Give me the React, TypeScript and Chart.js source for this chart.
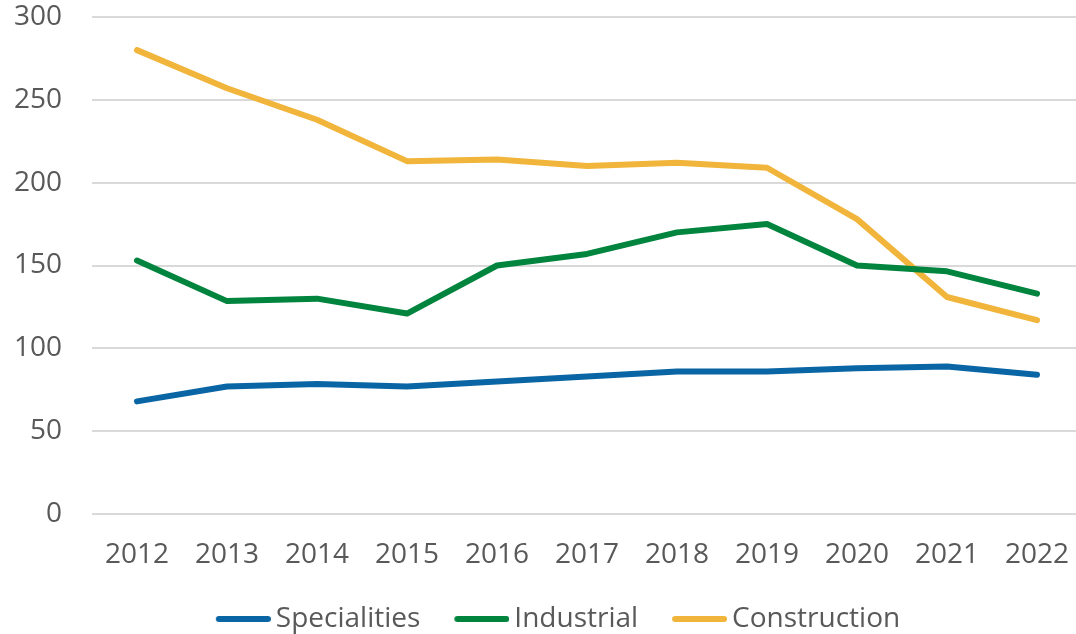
import React, { useEffect, useRef } from "react";
import { Chart, registerables } from "chart.js";

Chart.register(...registerables);

const years = ["2012", "2013", "2014", "2015", "2016", "2017", "2018", "2019", "2020", "2021", "2022"];
const specialities = [68, 77, 78.5, 77, 80, 83, 86, 86, 88, 89, 84];
const industrial = [153, 128.5, 130, 121, 150, 157, 170, 175, 150, 146.5, 133];
const construction = [280, 257, 238, 213, 214, 210, 212, 209, 178, 131, 117];
const yTicks = [0, 50, 100, 150, 200, 250, 300];

const FONT = "'Open Sans', sans-serif";
const TEXT = "#595959";

// legend marker: transparent left part, round-capped line on the right part
function lineMarker(color: string) {
  const c = document.createElement("canvas");
  c.width = 98;
  c.height = 8;
  const ctx = c.getContext("2d")!;
  ctx.strokeStyle = color;
  ctx.lineWidth = 6;
  ctx.lineCap = "round";
  ctx.beginPath();
  ctx.moveTo(46, 4);
  ctx.lineTo(95, 4);
  ctx.stroke();
  return c;
}

export default function App() {
  const ref = useRef<HTMLCanvasElement>(null);
  useEffect(() => {
    if (!ref.current) return;
    const mk = (label: string, data: number[], color: string) => ({
      label,
      data,
      borderColor: color,
      backgroundColor: color,
      borderWidth: 6,
      borderCapStyle: "round" as const,
      borderJoinStyle: "round" as const,
      pointRadius: 0,
      pointHoverRadius: 0,
      pointStyle: lineMarker(color),
      tension: 0,
      fill: false,
    });
    const chart = new Chart(ref.current, {
      type: "line",
      data: {
        labels: years,
        datasets: [
          mk("Specialities", specialities, "#0a65a4"),
          mk("Industrial", industrial, "#00843e"),
          mk("Construction", construction, "#f0b53a"),
        ],
      },
      options: {
        responsive: false,
        animation: false,
        devicePixelRatio: 1,
        layout: { padding: { left: 0, right: 0, top: 17, bottom: -9 } },
        scales: {
          x: {
            offset: true,
            grid: { display: false, drawTicks: false },
            border: { display: false },
            ticks: { color: TEXT, font: { family: FONT, size: 28 }, padding: 24, maxRotation: 0, autoSkip: false },
            afterFit: (s: any) => {
              s.height = 91;
              s.paddingLeft = 0;
              s.paddingRight = 0;
            },
          },
          y: {
            min: yTicks[0],
            max: yTicks[yTicks.length - 1],
            afterBuildTicks: (s: any) => {
              s.ticks = yTicks.map((v) => ({ value: v }));
            },
            grid: { color: "#d9d9d9", lineWidth: 2, drawTicks: false },
            border: { display: false },
            ticks: { color: TEXT, font: { family: FONT, size: 28 }, padding: 30 },
            afterFit: (s: any) => {
              s.width = 92;
              s.paddingTop = 0;
              s.paddingBottom = 0;
            },
          },
        },
        plugins: {
          tooltip: { enabled: false },
          legend: {
            position: "bottom",
            labels: {
              usePointStyle: true,
              pointStyleWidth: 80,
              boxHeight: 6,
              padding: 0,
              color: TEXT,
              font: { family: FONT, size: 28 },
            },
          },
        },
      },
    });
    return () => chart.destroy();
  }, []);
  return (
    <canvas
      ref={ref}
      width={1082}
      height={634}
      style={{ position: "fixed", left: 0, top: 0, width: 1082, height: 634 }}
    />
  );
}
